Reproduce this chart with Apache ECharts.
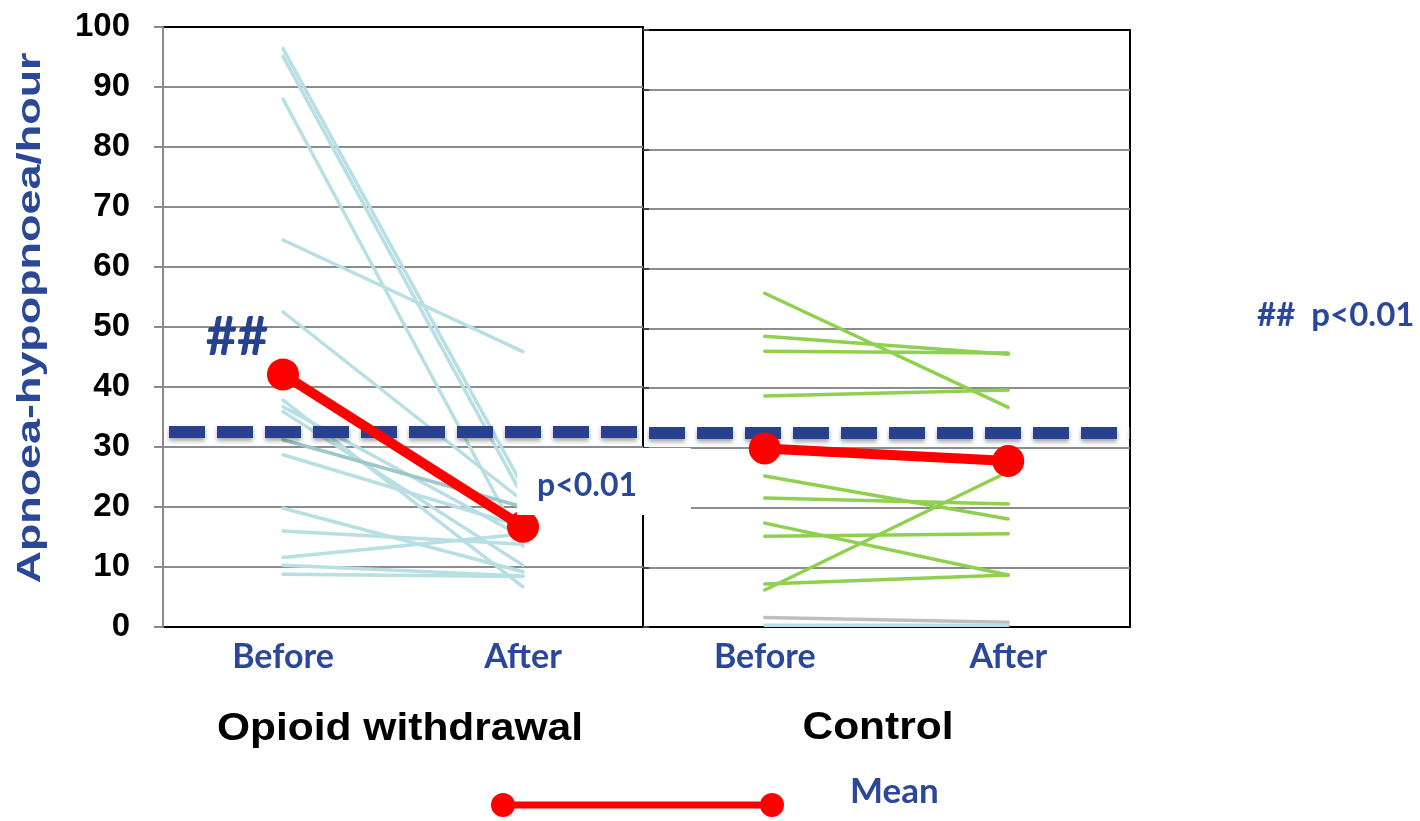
<!DOCTYPE html>
<html>
<head>
<meta charset="utf-8">
<script src="https://cdn.jsdelivr.net/npm/echarts@6/dist/echarts.min.js"></script>
<style>
  html, body { margin: 0; padding: 0; background: #fff; }
  #chart { width: 1420px; height: 821px; }
</style>
</head>
<body>
<div id="chart"></div>
<script>
// Time points on each panel's x axis
const phases = ['Before', 'After'];

// Apnoea-hypopnoea index per subject, opioid withdrawal group
const opioidBefore = [96.4, 95.1, 88.0, 64.5, 52.5, 37.8, 36.7, 35.9, 31.2, 28.7, 19.8, 16.0, 11.6, 10.3, 8.8];
const opioidAfter  = [23.4, 21.7, 13.5, 45.9, 21.0,  6.7, 15.0, 10.3, 20.0, 16.7,  9.2, 13.8, 15.5,  8.5, 8.4];

// Apnoea-hypopnoea index per subject, control group
const controlBefore = [55.9, 48.7, 46.2, 38.7, 25.3, 21.6, 17.4, 15.2, 7.2, 6.2, 1.6, 0.3];
const controlAfter  = [36.8, 45.7, 45.9, 39.7, 18.1, 20.6,  8.7, 15.6, 8.7, 26.0, 0.8, 0.3];

// Group means
const opioidMean  = [42.1, 16.7];
const controlMean = [29.9, 27.8];

// Horizontal reference level (dashed line)
const referenceLevel = 32.5;

// Y axis range
const yMin = 0, yMax = 100, yStep = 10;

// Panel / group titles and annotations
const groupNames = ['Opioid withdrawal', 'Control'];
const yTitle = 'Apnoea-hypopnoea/hour';
const meanLabel = 'Mean';

// ---- styling ----
const NAVY = '#27418f';
const TEXT_BLUE = '#2b4898';
const RED = '#ff0000';
const OPIOID_COLOR = '#b8dfe3';
const OPIOID_DARK = '#9fc6c9';
const CONTROL_GREEN = '#8fd14f';
const controlColors = controlBefore.map((_, i) =>
  i === controlBefore.length - 2 ? '#bfbfbf' : (i === controlBefore.length - 1 ? OPIOID_COLOR : CONTROL_GREEN));

const chart = echarts.init(document.getElementById('chart'), null, { renderer: 'canvas' });

function xAxisFor(gridIndex) {
  return {
    gridIndex, type: 'category', data: phases,
    axisLine: { lineStyle: { color: '#000', width: 2 } },
    axisTick: { show: false },
    axisLabel: { color: TEXT_BLUE, fontFamily: 'Lato', fontWeight: 'bold', fontSize: 34, margin: 13 }
  };
}

function yAxisFor(gridIndex) {
  const first = gridIndex === 0;
  return {
    gridIndex, type: 'value', min: yMin, max: yMax, interval: yStep, z: 1,
    axisLine: { show: first, lineStyle: { color: '#8a8a8a', width: 2 } },
    axisTick: first
      ? { show: true, length: 9, lineStyle: { color: '#8a8a8a', width: 2 } }
      : { show: true, inside: true, length: 6, lineStyle: { color: '#444', width: 2 } },
    axisLabel: {
      show: first, color: '#000', fontFamily: 'Liberation Sans', fontWeight: 'bold',
      fontSize: 33, margin: 33
    },
    splitLine: { show: true, showMinLine: false, showMaxLine: false, lineStyle: { color: '#8c8c8c', width: 2 } }
  };
}

function subjectSeries(before, after, gridIndex, colorOf) {
  return before.map((b, i) => ({
    type: 'line', xAxisIndex: gridIndex, yAxisIndex: gridIndex,
    data: [b, after[i]],
    symbol: 'none', silent: true, z: 2,
    lineStyle: { color: colorOf(i), width: 3.5, cap: 'round' }
  }));
}

function meanSeries(values, gridIndex) {
  return {
    type: 'line', xAxisIndex: gridIndex, yAxisIndex: gridIndex,
    data: values, symbol: 'circle', symbolSize: 32, silent: true, z: 5,
    lineStyle: { color: RED, width: 10 },
    itemStyle: { color: RED }
  };
}

function referenceSeries(gridIndex) {
  return {
    type: 'line', xAxisIndex: gridIndex, yAxisIndex: gridIndex,
    data: [], silent: true, z: 10,
    markLine: {
      silent: true, symbol: ['none', 'none'], label: { show: false },
      animation: false,
      lineStyle: {
        color: NAVY, width: 12, type: [36, 12], dashOffset: 42, cap: 'butt',
        shadowColor: 'rgba(0,0,0,0.35)', shadowBlur: 4, shadowOffsetY: 3
      },
      emphasis: { disabled: true },
      data: [{ yAxis: referenceLevel }]
    }
  };
}

const series = [
  ...subjectSeries(opioidBefore, opioidAfter, 0, i => (i === 8 ? OPIOID_DARK : OPIOID_COLOR)),
  ...subjectSeries(controlBefore, controlAfter, 1, i => controlColors[i]),
  meanSeries(opioidMean, 0),
  meanSeries(controlMean, 1),
  referenceSeries(0),
  referenceSeries(1)
];

const option = {
  animation: false,
  backgroundColor: '#fff',
  grid: [
    { left: 163, top: 27, width: 480, height: 600, show: true, borderColor: '#000', borderWidth: 2 },
    { left: 643, top: 30, width: 487, height: 597, show: true, borderColor: '#000', borderWidth: 2 }
  ],
  xAxis: [xAxisFor(0), xAxisFor(1)],
  yAxis: [yAxisFor(0), yAxisFor(1)],
  series,
  graphic: [
    // significance annotation box
    { type: 'rect', z: 100, shape: { x: 517, y: 448, width: 174, height: 67 }, style: { fill: '#fff' } },
    { type: 'text', z: 101, x: 537, y: 486,
      style: { text: 'p<0.01', font: 'bold 32px Lato', fill: TEXT_BLUE, align: 'left', verticalAlign: 'middle' } },
    { type: 'text', z: 101, x: 237, y: 338,
      style: { text: '##', font: 'bold 54px Lato', fill: NAVY, align: 'center', verticalAlign: 'middle' } },
    { type: 'text', z: 101, x: 1257, y: 315,
      style: { text: '##  p<0.01', font: 'bold 33px Lato', fill: TEXT_BLUE, align: 'left', verticalAlign: 'middle' } },
    // y axis title
    { type: 'text', z: 101, x: 31, y: 318, rotation: Math.PI / 2, scaleX: 1.36,
      style: { text: yTitle, font: 'bold 33px "Liberation Sans"', fill: TEXT_BLUE, align: 'center', verticalAlign: 'middle' } },
    // group titles
    { type: 'text', z: 101, x: 400, y: 729, scaleX: 1.09,
      style: { text: groupNames[0], font: 'bold 39px "Liberation Sans"', fill: '#000', align: 'center', verticalAlign: 'middle' } },
    { type: 'text', z: 101, x: 878, y: 728, scaleX: 1.09,
      style: { text: groupNames[1], font: 'bold 39px "Liberation Sans"', fill: '#000', align: 'center', verticalAlign: 'middle' } },
    // legend for the mean line
    { type: 'line', z: 101, shape: { x1: 503, y1: 805, x2: 772, y2: 805 }, style: { stroke: RED, lineWidth: 7 } },
    { type: 'circle', z: 102, shape: { cx: 503, cy: 805, r: 12 }, style: { fill: RED } },
    { type: 'circle', z: 102, shape: { cx: 772, cy: 805, r: 12 }, style: { fill: RED } },
    { type: 'text', z: 101, x: 850, y: 792,
      style: { text: meanLabel, font: 'bold 35px Lato', fill: TEXT_BLUE, align: 'left', verticalAlign: 'middle' } }
  ]
};

chart.setOption(option);
</script>
</body>
</html>
